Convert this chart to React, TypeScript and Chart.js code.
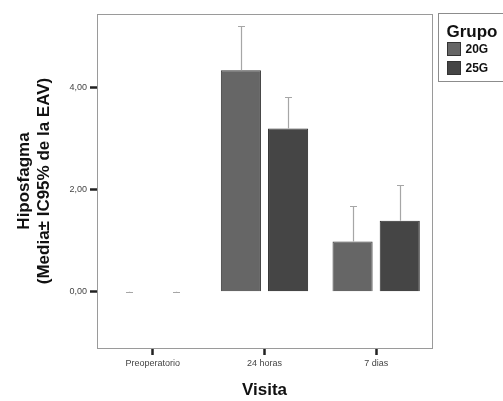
import { useEffect, useRef } from 'react';
import { Chart, registerables } from 'chart.js';

Chart.register(...registerables);

const categories = ['Preoperatorio', '24 horas', '7 dias'];
const groupLabels = ['20G', '25G'];
const legendTitle = 'Grupo';
const means20G = [0, 4.33, 0.98];
const ciUpper20G = [0, 5.2, 1.67];
const means25G = [0, 3.19, 1.39];
const ciUpper25G = [0, 3.81, 2.08];
const yTickValues = [0, 2, 4];
const yMin = -1.1;
const yMax = 5.43;
const xTitle = 'Visita';
const yTitle = ['Hiposfagma', '(Media± IC95% de la EAV)'];

const FONT = "'Liberation Sans', Arial, sans-serif";

const errorBarPlugin = {
  id: 'errorBars',
  afterDatasetsDraw(chart: any) {
    const ctx = chart.ctx;
    const ys = chart.scales.y;
    ctx.save();
    ctx.strokeStyle = '#a6a6a6';
    ctx.lineWidth = 1.2;
    chart.data.datasets.forEach((ds: any, di: number) => {
      const meta = chart.getDatasetMeta(di);
      meta.data.forEach((bar: any, i: number) => {
        const x = Math.round(bar.x) + 0.5;
        const y0 = ys.getPixelForValue(ds.data[i]);
        const y1 = Math.round(ys.getPixelForValue(ds.ciUpper[i])) + 0.5;
        ctx.beginPath();
        ctx.moveTo(x, y0);
        ctx.lineTo(x, y1);
        ctx.moveTo(x - 3.5, y1);
        ctx.lineTo(x + 3.5, y1);
        ctx.stroke();
      });
    });
    ctx.restore();
  },
};

const framePlugin = {
  id: 'frameAndLegend',
  afterDraw(chart: any) {
    const ctx = chart.ctx;
    const a = chart.chartArea;
    ctx.save();
    ctx.strokeStyle = '#9a9a9a';
    ctx.lineWidth = 1;
    ctx.strokeRect(Math.round(a.left) + 0.5, Math.round(a.top) + 0.5, Math.round(a.right - a.left), Math.round(a.bottom - a.top));

    // legend
    const lx = 438.5;
    const ly = 13.5;
    ctx.strokeStyle = '#8c8c8c';
    ctx.strokeRect(lx, ly, 80, 68);
    ctx.fillStyle = '#111';
    ctx.font = `bold 17px ${FONT}`;
    ctx.textBaseline = 'alphabetic';
    ctx.textAlign = 'left';
    ctx.fillText(legendTitle, 446.5, 37);
    chart.data.datasets.forEach((ds: any, i: number) => {
      const sy = 42 + i * 19;
      ctx.fillStyle = ds.backgroundColor;
      ctx.fillRect(447, sy, 14, 14);
      ctx.strokeStyle = '#333';
      ctx.strokeRect(447.5, sy + 0.5, 13, 13);
      ctx.fillStyle = '#111';
      ctx.font = `bold 12px ${FONT}`;
      ctx.textBaseline = 'middle';
      ctx.fillText(ds.label, 465.5, sy + 7.5);
    });
    ctx.restore();
  },
};

export default function App() {
  const ref = useRef<HTMLCanvasElement | null>(null);

  useEffect(() => {
    if (!ref.current) return;
    const chart = new Chart(ref.current, {
      type: 'bar',
      data: {
        labels: categories,
        datasets: [
          {
            label: groupLabels[0],
            data: means20G,
            ciUpper: ciUpper20G,
            backgroundColor: '#666666',
            borderColor: '#383838',
            borderWidth: 1,
            categoryPercentage: 0.845,
            barPercentage: 0.85,
          } as any,
          {
            label: groupLabels[1],
            data: means25G,
            ciUpper: ciUpper25G,
            backgroundColor: '#454545',
            borderColor: '#2a2a2a',
            borderWidth: 1,
            categoryPercentage: 0.845,
            barPercentage: 0.85,
          } as any,
        ],
      },
      options: {
        animation: false,
        responsive: false,
        maintainAspectRatio: false,
        layout: { padding: { top: 14, right: 71, bottom: 0, left: 0 } },
        plugins: {
          legend: { display: false },
          tooltip: { enabled: false },
        },
        scales: {
          x: {
            offset: true,
            border: { display: false },
            grid: {
              offset: false,
              drawOnChartArea: false,
              drawTicks: true,
              tickLength: 7,
              tickWidth: 2.5,
              tickColor: '#222',
            },
            ticks: {
              color: '#444',
              font: { family: FONT, size: 9 },
              padding: 3,
              maxRotation: 0,
            },
            title: {
              display: true,
              text: xTitle,
              color: '#111',
              font: { family: FONT, size: 17, weight: 'bold' },
              padding: { top: 0, bottom: 0 },
            },
            afterFit(scale: any) {
              scale.height = 53;
            },
          },
          y: {
            min: yMin,
            max: yMax,
            border: { display: false },
            grid: {
              drawOnChartArea: false,
              drawTicks: true,
              tickLength: 7,
              tickWidth: 2.5,
              tickColor: '#222',
            },
            afterBuildTicks(scale: any) {
              scale.ticks = yTickValues.map((v) => ({ value: v }));
            },
            ticks: {
              color: '#444',
              font: { family: FONT, size: 9 },
              padding: 3,
              callback: (v: any) => Number(v).toFixed(2).replace('.', ','),
            },
            title: {
              display: true,
              text: yTitle,
              color: '#111',
              font: { family: FONT, size: 17, weight: 'bold', lineHeight: 1.2 },
              padding: { top: 14, bottom: 0 },
            },
            afterFit(scale: any) {
              scale.width = 97;
            },
          },
        },
      } as any,
      plugins: [errorBarPlugin, framePlugin],
    });
    return () => chart.destroy();
  }, []);

  return (
    <div style={{ position: 'fixed', left: 0, top: 0, width: 503, height: 401, background: '#fff' }}>
      <canvas ref={ref} width={503} height={401} />
    </div>
  );
}
